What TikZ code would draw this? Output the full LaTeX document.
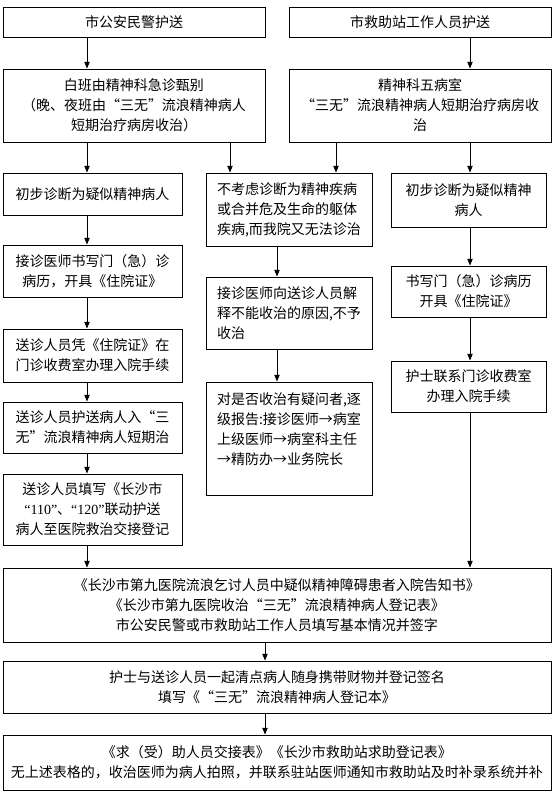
\documentclass[tikz,border=0pt]{standalone}
\usepackage{fontspec}
\setmainfont{Noto Sans CJK SC}
\newfontfamily\numfont{Liberation Serif}
\usetikzlibrary{arrows.meta}
\tikzset{
	box/.style={draw, line width=0.75pt, inner sep=2pt, align=center,
		font=\fontsize{10.5pt}{15pt}\selectfont},
	lbox/.style={box, align=left},
	boxsize/.style 2 args={minimum width=#1*0.75pt, minimum height=#2*0.75pt},
	flow/.style={-{Triangle[length=5pt, width=4pt]}, line width=0.6pt},
}

\begin{document}
\begin{tikzpicture}[x=0.75pt, y=-0.75pt]
		\useasboundingbox (0,0) rectangle (559,794);
		\coordinate (colA) at (87,0);
		\coordinate (colB) at (230,0);
		\coordinate (colC) at (277,0);
		\coordinate (colD) at (336,0);
		\coordinate (colE) at (470,0);
		\coordinate (colF) at (265,0);

		\node[box, boxsize={262}{30}] (police) at (134,22) {市公安民警护送};
		\node[box, boxsize={262}{30}] (rescue) at (420,22) {市救助站工作人员护送};
		\node[box, boxsize={262}{73}] (triage) at (134,105.5) {白班由精神科急诊甄别\\（晚、夜班由“三无”流浪精神病人\\短期治疗病房收治）};
		\node[box, boxsize={262}{73}] (ward) at (420,105.5) {精神科五病室\\“三无”流浪精神病人短期治疗病房收\\治};

		\node[box, boxsize={179}{42}] (diagL) at (92.5,194) {初步诊断为疑似精神病人};
		\node[box, boxsize={179}{52}] (recL) at (92.5,271) {接诊医师书写门（急）诊\\病历，开具《住院证》};
		\node[box, boxsize={179}{53}] (payL) at (92.5,355.5) {送诊人员凭《住院证》在\\门诊收费室办理入院手续};
		\node[box, boxsize={179}{51}] (escort) at (92.5,427.5) {送诊人员护送病人入“三\\无”流浪精神病人短期治};
		\node[box, boxsize={179}{71}] (handover) at (92.5,509.5) {送诊人员填写《长沙市\\{\numfont “110”}、{\numfont “120”}联动护送\\病人至医院救治交接登记};

		\node[lbox, boxsize={166}{73}] (excl) at (289,209.5) {不考虑诊断为精神疾病\\或合并危及生命的躯体\\疾病,而我院又无法诊治};
		\node[lbox, boxsize={166}{72}] (explain) at (289,313) {接诊医师向送诊人员解\\释不能收治的原因,不予\\收治};
		\node[lbox, boxsize={166}{113}] (report) at (289,438.5) {对是否收治有疑问者,逐\\级报告:接诊医师→病室\\上级医师→病室科主任\\→精防办→业务院长\\ \mbox{}};

		\node[box, boxsize={155}{54}] (diagR) at (468.5,200) {初步诊断为疑似精神\\病人};
		\node[box, boxsize={155}{51}] (recR) at (468.5,291.5) {书写门（急）诊病历\\开具《住院证》};
		\node[box, boxsize={155}{51}] (payR) at (468.5,386.5) {护士联系门诊收费室\\办理入院手续};

		\node[box, boxsize={548}{74}] (notice) at (277,605) {《长沙市第九医院流浪乞讨人员中疑似精神障碍患者入院告知书》\\《长沙市第九医院收治“三无”流浪精神病人登记表》\\市公安民警或市救助站工作人员填写基本情况并签字};
		\node[box, boxsize={548}{52}] (belongings) at (277,687) {护士与送诊人员一起清点病人随身携带财物并登记签名\\填写《“三无”流浪精神病人登记本》};
		\node[box, boxsize={548}{55}] (forms) at (277,762.5) {《求（受）助人员交接表》《长沙市救助站求助登记表》\\无上述表格的，收治医师为病人拍照，并联系驻站医师通知市救助站及时补录系统并补};

		\draw[flow] (police.south -| colA) -- (triage.north -| colA);
		\draw[flow] (rescue.south -| colE) -- (ward.north -| colE);
		\draw[flow] (triage.south -| colA) -- (diagL.north -| colA);
		\draw[flow] (triage.south -| colB) -- (excl.north -| colB);
		\draw[flow] (ward.south -| colD) -- (excl.north -| colD);
		\draw[flow] (ward.south -| colE) -- (diagR.north -| colE);
		\foreach \a/\b in {diagL/recL, recL/payL, payL/escort, escort/handover, handover/notice}
			\draw[flow] (\a.south -| colA) -- (\b.north -| colA);
		\foreach \a/\b in {excl/explain, explain/report}
			\draw[flow] (\a.south -| colC) -- (\b.north -| colC);
		\foreach \a/\b in {diagR/recR, recR/payR, payR/notice}
			\draw[flow] (\a.south -| colE) -- (\b.north -| colE);
		\foreach \a/\b in {notice/belongings, belongings/forms}
			\draw[flow] (\a.south -| colF) -- (\b.north -| colF);
	\end{tikzpicture}
\end{document}
